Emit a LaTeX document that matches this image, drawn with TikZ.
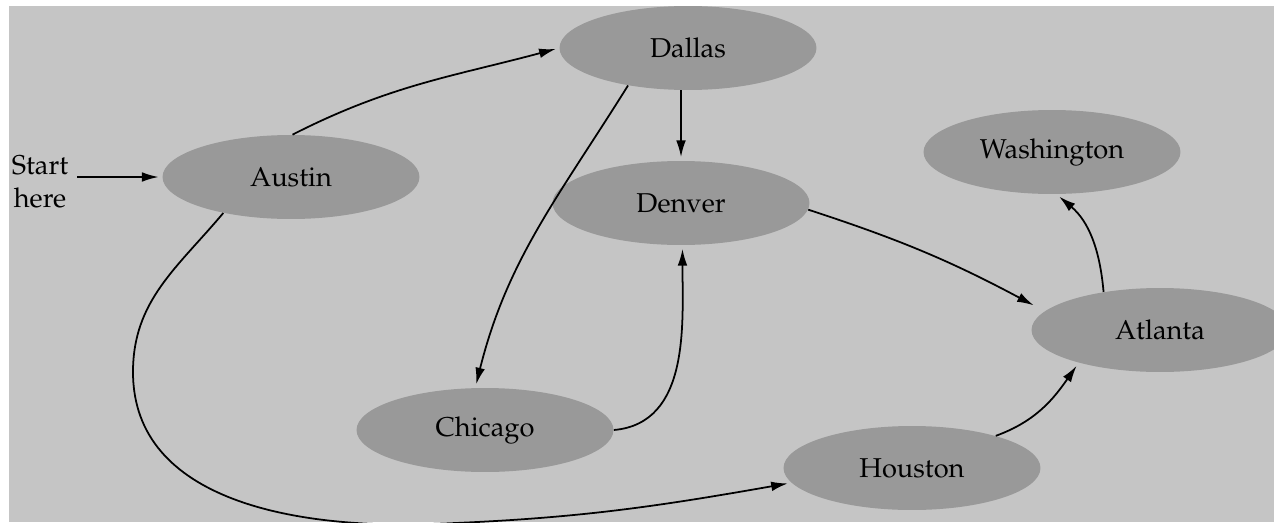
\documentclass[tikz,border=0pt]{standalone}
\usepackage[T1]{fontenc}
\usepackage{mathpazo}
\usetikzlibrary{shapes.geometric,arrows.meta}
\definecolor{bggray}{HTML}{C5C5C5}
\definecolor{citygray}{HTML}{999999}
\tikzset{
	city/.style={ellipse,fill=citygray,minimum width=5.14cm,minimum height=1.68cm,inner sep=0pt},
	route/.style={-{Latex[length=9.5pt,width=5.5pt]},line width=1pt,shorten >=2pt},
}
\begin{document}
\begin{tikzpicture}[x=0.02cm,y=0.02cm,font=\fontsize{15.5}{18.7}\selectfont]
	\clip (0,0) rectangle (1274,522);
	% Background
	\fill[bggray] (9,0) rectangle (1274,516);
	% Cities
	\node[city] (austin) at (291,345) {Austin};
	\node[city] (dallas) at (688,474) {Dallas};
	\node[city] (denver) at (681,319) {Denver};
	\node[city] (washington) at (1052,370) {Washington};
	\node[city] (atlanta) at (1160,192) {Atlanta};
	\node[city] (chicago) at (485,92) {Chicago};
	\node[city] (houston) at (912,54) {Houston};
	\node[align=center,inner sep=5pt] (start) at (40,340) {Start\\here};
	% Routes
	\draw[route] (start.east |- austin) -- (austin.west);
	\draw[route] (austin.88) to[out=27,in=195] (dallas.west);
	\draw[route] (dallas.south -| denver) -- (denver.north);
	\draw[route] (dallas.212) to[out=238,in=76] (chicago.103);
	\draw[route] (chicago.east) to[out=5,in=-90] (denver.-88);
	\draw[route] (denver.-3) to[bend left=5] ([xshift=-0.3cm]atlanta.168);
	\draw[route] (atlanta.146) to[out=95,in=-40] (washington.-84);
	\draw[route] (houston.21) to[out=20,in=235] (atlanta.202);
	\draw[route] (austin.208) to[out=230,in=90] (133,150)
		to[out=-90,in=182] (430,-2) to[out=2,in=190] (houston.187);
\end{tikzpicture}
\end{document}
